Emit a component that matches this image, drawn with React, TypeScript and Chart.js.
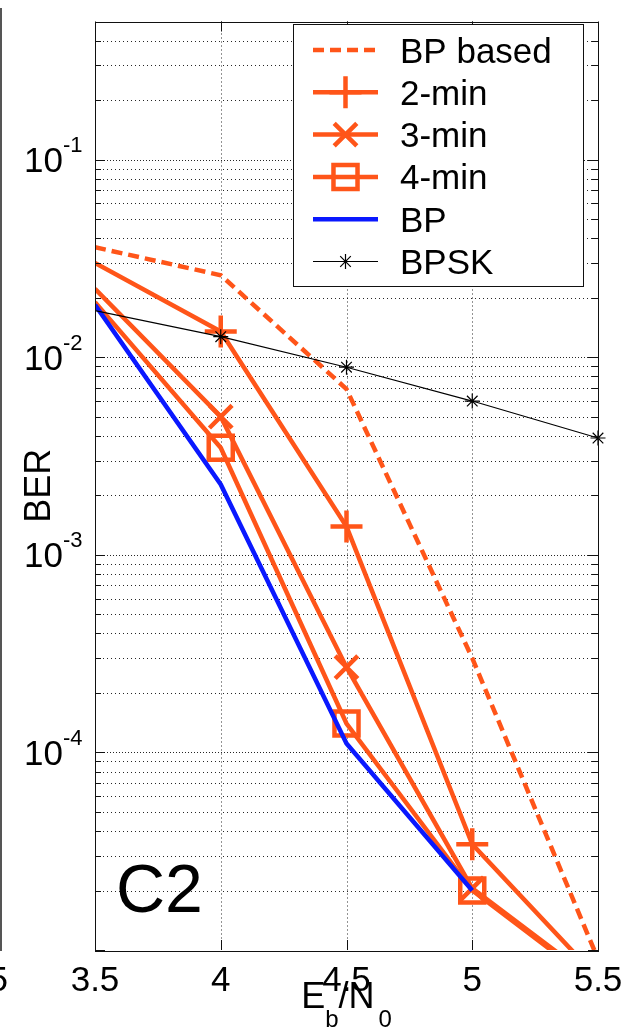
import React, { useEffect, useRef } from "react";
import { Chart, registerables } from "chart.js";

Chart.register(...registerables);

// ---------- data ----------
const ebN0 = [3.5, 4, 4.5, 5, 5.5];
const berBPBased = [0.036, 0.026, 0.0069, 0.0003, 0.000009];
const ber2Min = [0.03, 0.0135, 0.00139, 0.0000343, 0.0000072];
const ber3Min = [0.0222, 0.005, 0.00027, 0.0000205, 0.0000068];
const ber4Min = [0.019, 0.00348, 0.00014, 0.00002, 0.0000066];
const berBP = [0.0184, 0.00227, 0.000111, 0.00002];
const berBPSK = [0.0172, 0.0127, 0.0089, 0.006, 0.0039];

const seriesLabels = ["BP based", "2-min", "3-min", "4-min", "BP", "BPSK"];
const xTickValues = [3.5, 4, 4.5, 5, 5.5];
const xTickLabels = ["3.5", "4", "4.5", "5", "5.5"];
const yLabelExponents = [-1, -2, -3, -4];
const yGridExponents = [-5, -4, -3, -2, -1];
const xAxisRange = [3.5, 5.5];
const yAxisRange = [1e-5, 0.5];
const panelLabel = "C2";

// ---------- styles ----------
const ORANGE = "#ff5519";
const BLUE = "#0a18ff";
const FONT = '"Liberation Sans", Arial, Helvetica, sans-serif';

type Series = {
  label: string;
  values: number[];
  color: string;
  width: number;
  dash: number[];
  style: string | null;
  radius: number;
  order: number;
  clip: any;
};

const series: Series[] = [
  { label: seriesLabels[0], values: berBPBased, color: ORANGE, width: 4.5, dash: [11, 6], style: null, radius: 0, order: 5, clip: 0 },
  { label: seriesLabels[1], values: ber2Min, color: ORANGE, width: 4.5, dash: [], style: "cross", radius: 16, order: 4, clip: 0 },
  { label: seriesLabels[2], values: ber3Min, color: ORANGE, width: 4.5, dash: [], style: "crossRot", radius: 16, order: 3, clip: 0 },
  { label: seriesLabels[3], values: ber4Min, color: ORANGE, width: 4.5, dash: [], style: "rect", radius: 17, order: 2, clip: 0 },
  { label: seriesLabels[4], values: berBP, color: BLUE, width: 4.5, dash: [], style: null, radius: 0, order: 1, clip: 0 },
  { label: seriesLabels[5], values: berBPSK, color: "#000000", width: 1.2, dash: [], style: "star", radius: 7.5, order: 0, clip: { left: 0, top: 0, right: 12, bottom: 0 } },
];

function drawMarker(ctx: CanvasRenderingContext2D, style: string | null, x: number, y: number, r: number) {
  if (!style) return;
  ctx.beginPath();
  if (style === "cross" || style === "star") {
    ctx.moveTo(x - r, y);
    ctx.lineTo(x + r, y);
    ctx.moveTo(x, y - r);
    ctx.lineTo(x, y + r);
  }
  if (style === "crossRot" || style === "star") {
    const d = r * Math.SQRT1_2;
    ctx.moveTo(x - d, y - d);
    ctx.lineTo(x + d, y + d);
    ctx.moveTo(x - d, y + d);
    ctx.lineTo(x + d, y - d);
  }
  if (style === "rect") {
    const s = r * Math.SQRT1_2;
    ctx.rect(x - s, y - s, 2 * s, 2 * s);
  }
  ctx.stroke();
}

const overlayPlugin = {
  id: "matlabOverlay",
  beforeDatasetsDraw(chart: any) {
    const { ctx, chartArea: a, scales } = chart;
    const xs = scales.x;
    const ys = scales.y;
    ctx.save();
    ctx.lineWidth = 1;
    ctx.strokeStyle = "rgba(0,0,0,0.85)";
    // horizontal grid (major + minor)
    for (const e of yGridExponents) {
      for (let m = 1; m <= 9; m++) {
        const v = m * Math.pow(10, e);
        if (v < yAxisRange[0] * 0.999 || v > yAxisRange[1] * 1.001) continue;
        const py = Math.round(ys.getPixelForValue(v)) + 0.5;
        if (py <= a.top + 1 || py >= a.bottom - 1) continue;
        ctx.setLineDash(m === 1 ? [1, 2] : [1, 3]);
        ctx.beginPath();
        ctx.moveTo(a.left, py);
        ctx.lineTo(a.right, py);
        ctx.stroke();
      }
    }
    // vertical grid
    ctx.setLineDash([1, 3]);
    for (const v of xTickValues) {
      if (v <= xAxisRange[0] || v >= xAxisRange[1]) continue;
      const px = Math.round(xs.getPixelForValue(v)) + 0.5;
      ctx.beginPath();
      ctx.moveTo(px, a.top);
      ctx.lineTo(px, a.bottom);
      ctx.stroke();
    }
    ctx.restore();
  },
  afterDatasetsDraw(chart: any) {
    const { ctx, chartArea: a, scales } = chart;
    const xs = scales.x;
    const ys = scales.y;
    ctx.save();
    ctx.setLineDash([]);

    // axes frame
    ctx.strokeStyle = "#111";
    ctx.lineWidth = 1;
    ctx.strokeRect(Math.round(a.left) + 0.5, Math.round(a.top) + 0.5, Math.round(a.right - a.left), Math.round(a.bottom - a.top));

    // y tick marks (left and right)
    for (const e of yGridExponents) {
      for (let m = 1; m <= 9; m++) {
        const v = m * Math.pow(10, e);
        if (v < yAxisRange[0] * 0.999 || v > yAxisRange[1] * 1.001) continue;
        const py = Math.round(ys.getPixelForValue(v)) + 0.5;
        const len = m === 1 ? 10 : 6;
        ctx.beginPath();
        ctx.moveTo(a.left, py);
        ctx.lineTo(a.left + len, py);
        ctx.moveTo(a.right, py);
        ctx.lineTo(a.right - len, py);
        ctx.stroke();
      }
    }
    // x tick marks (top and bottom)
    for (const v of xTickValues) {
      const px = Math.round(xs.getPixelForValue(v)) + 0.5;
      ctx.beginPath();
      ctx.moveTo(px, a.bottom);
      ctx.lineTo(px, a.bottom - 10);
      ctx.moveTo(px, a.top);
      ctx.lineTo(px, a.top + 10);
      ctx.stroke();
    }

    ctx.fillStyle = "#000";
    // y tick labels 10^e
    for (const e of yLabelExponents) {
      const py = ys.getPixelForValue(Math.pow(10, e));
      ctx.font = `35px ${FONT}`;
      ctx.textAlign = "right";
      ctx.textBaseline = "alphabetic";
      ctx.fillText("10", 63, py + 12.5);
      ctx.font = `22px ${FONT}`;
      ctx.textAlign = "left";
      ctx.fillText(String(e), 63, py - 7.5);
    }
    // x tick labels
    ctx.font = `35px ${FONT}`;
    ctx.textAlign = "center";
    xTickValues.forEach((v, i) => {
      ctx.fillText(xTickLabels[i], xs.getPixelForValue(v), 991);
    });

    // x axis title E_b/N_0
    const parts: [string, number, number][] = [
      ["E", 36, 0],
      ["b", 24, 19],
      ["/", 36, 0],
      ["N", 36, 0],
      ["0", 24, 19],
    ];
    let total = 0;
    for (const [t, s] of parts) {
      ctx.font = `${s}px ${FONT}`;
      total += ctx.measureText(t).width;
    }
    let cx = (a.left + a.right) / 2 - total / 2 - 2;
    ctx.textAlign = "left";
    for (const [t, s, dy] of parts) {
      ctx.font = `${s}px ${FONT}`;
      ctx.fillText(t, cx, 1008 + dy);
      cx += ctx.measureText(t).width + (t === "N" ? 4 : 0);
    }

    // y axis title
    ctx.save();
    ctx.translate(50, (a.top + a.bottom) / 2);
    ctx.rotate(-Math.PI / 2);
    ctx.font = `36px ${FONT}`;
    ctx.textAlign = "center";
    ctx.fillText("BER", 0, 0);
    ctx.restore();

    // panel label
    ctx.font = `68px ${FONT}`;
    ctx.textAlign = "left";
    ctx.fillText(panelLabel, 116, 912);

    // legend
    const lx0 = 293.5, ly0 = 24.5, lx1 = 583.5, ly1 = 286.5;
    ctx.fillStyle = "#fff";
    ctx.fillRect(lx0, ly0, lx1 - lx0, ly1 - ly0);
    ctx.strokeStyle = "#111";
    ctx.lineWidth = 1;
    ctx.strokeRect(lx0, ly0, lx1 - lx0, ly1 - ly0);
    series.forEach((s, i) => {
      const cy = 50 + i * 42.3;
      ctx.strokeStyle = s.color;
      ctx.lineWidth = s.width;
      ctx.setLineDash(s.dash);
      ctx.beginPath();
      ctx.moveTo(313, cy);
      ctx.lineTo(378, cy);
      ctx.stroke();
      ctx.setLineDash([]);
      drawMarker(ctx, s.style, 345.5, cy, s.radius);
      ctx.fillStyle = "#000";
      ctx.font = `35px ${FONT}`;
      ctx.textAlign = "left";
      ctx.fillText(s.label, 400, cy + 12.5);
    });

    // edge of the neighbouring panel
    ctx.fillStyle = "#555";
    ctx.fillRect(0, 8, 2, 943);
    ctx.fillStyle = "#000";
    ctx.font = `35px ${FONT}`;
    ctx.textAlign = "right";
    ctx.fillText("5", 8, 991);

    ctx.restore();
  },
};

export default function App() {
  const canvasRef = useRef<HTMLCanvasElement | null>(null);

  useEffect(() => {
    const canvas = canvasRef.current;
    if (!canvas) return;
    const datasets = series.map((s) => ({
      label: s.label,
      data: s.values.map((y, i) => ({ x: ebN0[i], y })),
      borderColor: s.color,
      backgroundColor: s.color,
      borderWidth: s.width,
      borderDash: s.dash,
      pointStyle: s.style || "circle",
      pointRadius: s.values.map((_, i) => (i === 0 || !s.style ? 0 : s.radius)),
      pointHoverRadius: 0,
      pointBorderColor: s.color,
      pointBackgroundColor: "rgba(0,0,0,0)",
      pointBorderWidth: s.width,
      tension: 0,
      fill: false,
      order: s.order,
      clip: s.clip,
    }));
    const chart = new Chart(canvas, {
      type: "line",
      data: { datasets },
      options: {
        animation: false,
        responsive: false,
        devicePixelRatio: 1,
        layout: { padding: { left: 95, top: 12, right: 31, bottom: 79 } },
        plugins: { legend: { display: false }, tooltip: { enabled: false } },
        events: [],
        scales: {
          x: { type: "linear", display: false, min: xAxisRange[0], max: xAxisRange[1] },
          y: { type: "logarithmic", display: false, min: yAxisRange[0], max: yAxisRange[1] },
        },
      },
      plugins: [overlayPlugin],
    } as any);
    return () => chart.destroy();
  }, []);

  return (
    <div style={{ position: "absolute", left: 0, top: 0, width: 629, height: 1029, background: "#fff", overflow: "hidden" }}>
      <canvas ref={canvasRef} width={629} height={1029} style={{ display: "block" }} />
    </div>
  );
}
